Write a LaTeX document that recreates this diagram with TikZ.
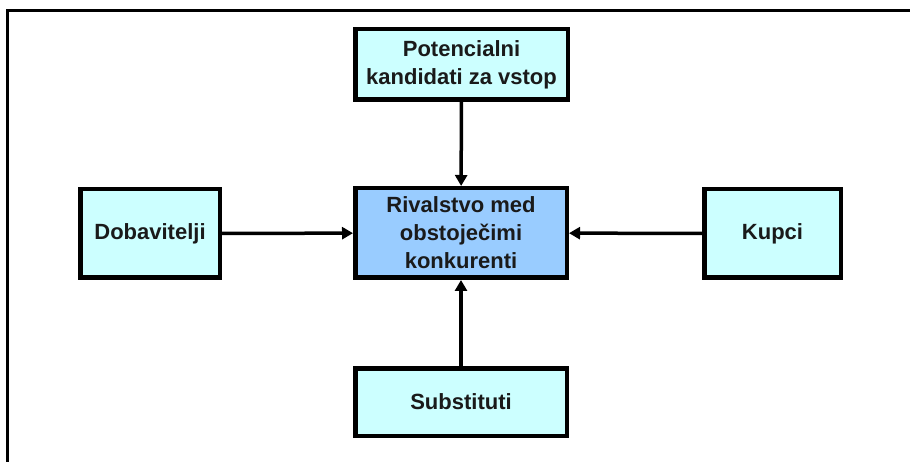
\documentclass[tikz,border=0pt]{standalone}
\usepackage{fontspec}
\setmainfont{Liberation Sans}
\usetikzlibrary{arrows.meta}
\definecolor{boxfill}{HTML}{CCFFFF}
\definecolor{centerfill}{HTML}{99CCFF}
\definecolor{txt}{HTML}{1A1A1A}
\begin{document}
\begin{tikzpicture}[x=1pt,y=-1pt,
  forcebox/.style={draw=black, line width=4.5pt, fill=boxfill, align=center,
    font=\fontsize{22}{28}\selectfont\bfseries, text=txt, inner sep=0pt},
  conn/.style={line width=3.5pt, -{Triangle[length=11pt,width=12pt]}}]
\useasboundingbox (0,0) rectangle (910,462);
\draw[line width=3pt] (910,11) -- (7,11) -- (7,463);
\node[forcebox, minimum width=212.5pt, minimum height=70.5pt] (entrants) at (461.5,64.5) {Potencialni\\kandidati za vstop};
\node[forcebox, fill=centerfill, minimum width=211.5pt, minimum height=89.5pt] (rivalry) at (461,233) {Rivalstvo med\\obstoječimi\\konkurenti};
\node[forcebox, minimum width=139.5pt, minimum height=88.5pt] (suppliers) at (150,233.5) {Dobavitelji};
\node[forcebox, minimum width=136.5pt, minimum height=88.5pt] (buyers) at (772.5,233.5) {Kupci};
\node[forcebox, minimum width=211.5pt, minimum height=67.5pt] (subst) at (461,402) {Substituti};
\draw[conn] (entrants) -- (rivalry);
\draw[conn] (subst) -- (rivalry);
\draw[conn] (suppliers) -- (rivalry);
\draw[conn] (buyers) -- (rivalry);
\end{tikzpicture}
\end{document}
